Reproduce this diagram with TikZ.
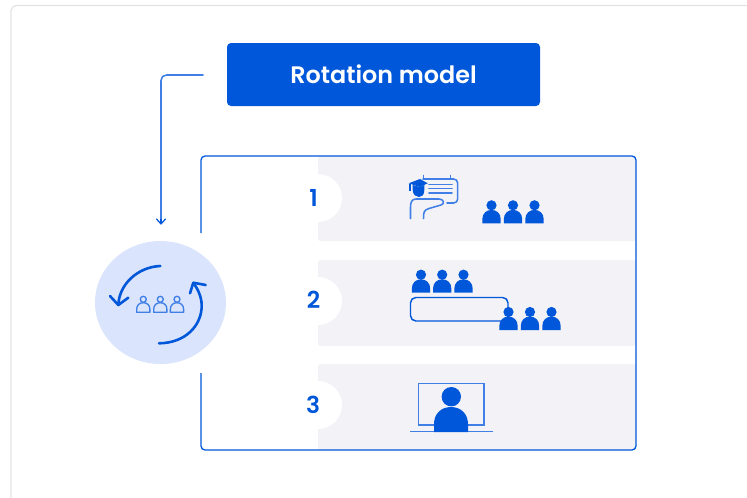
\documentclass[tikz,border=0pt]{standalone}
\usepackage{fontspec}
\setmainfont[BoldFont={Poppins SemiBold}]{Poppins}
\usetikzlibrary{arrows.meta}
\definecolor{mainblue}{HTML}{0057D9}
\definecolor{lineblue}{HTML}{3F7FE6}
\definecolor{softblue}{HTML}{DAE4FD}
\definecolor{panelgray}{HTML}{F2F2F7}
\definecolor{cardgray}{HTML}{E4E4E4}
\tikzset{
  x=0.75pt,y=-0.75pt,
  thinblue/.style={draw=lineblue,line width=1.15pt,line cap=round,line join=round},
  panel/.style={fill=panelgray},
  notch/.style={fill=white},
  numlabel/.style={font=\bfseries\fontsize{17.5}{19}\selectfont,text=mainblue,inner sep=0pt},
  rotarrow/.style={draw=mainblue,line width=1.95pt,line cap=round,line join=round},
  pics/personfill/.style={code={
    \fill[mainblue] (0,-18) circle[radius=5.1];
    \fill[mainblue] (-9.2,0) -- (-9.2,-4) .. controls (-9.2,-10) and (-5,-13.4) .. (0,-13.4)
       .. controls (5,-13.4) and (9.2,-10) .. (9.2,-4) -- (9.2,0) -- cycle;
  }},
  pics/personline/.style={code={
    \draw[lineblue,line width=1pt] (0,-13) circle[radius=3];
    \draw[lineblue,line width=1pt,line join=round] (-6.6,0) -- (-6.6,-3) .. controls (-6.6,-7) and (-4,-9.6) .. (0,-9.6)
       .. controls (4,-9.6) and (6.6,-7) .. (6.6,-3) -- (6.6,0) -- cycle;
  }}
}
\begin{document}
\begin{tikzpicture}
\useasboundingbox (0,0) rectangle (747,497);
\clip (0,0) rectangle (747,497);
\fill[white] (0,0) rectangle (747,497);
\draw[cardgray,line width=0.9pt,rounded corners=4pt] (11,5.5) -- (770,5.5) -- (770,520) -- (11,520) -- cycle;

% panels
\fill[panel,rounded corners=2pt] (318,156) rectangle (636,241);
\fill[panel,rounded corners=2pt] (318,260) rectangle (636,346);
\fill[panel,rounded corners=2pt] (318,364) rectangle (636,450);
\fill[notch] (318,198) circle[radius=24];
\fill[notch] (318,301) circle[radius=24];
\fill[notch] (318,405) circle[radius=24];
\node[numlabel] (n1) at (313.5,198) {1};
\node[numlabel] (n2) at (313.5,300) {2};
\node[numlabel] (n3) at (313,405) {3};

% frame
\draw[mainblue,line width=0.95pt,rounded corners=3pt]
  (201,233) -- (201,156) -- (636,156) -- (636,450) -- (201,450) -- (201,373);

% title
\node[fill=mainblue,rounded corners=3pt,minimum width=234.75pt,minimum height=47.25pt,inner sep=0pt,
  text=white,font=\bfseries\fontsize{17.9}{19}\selectfont] (title) at (383.5,74.5) {Rotation model};

% circle
\fill[softblue] (160.5,302.5) ellipse[x radius=65.5,y radius=61.5];
\coordinate (hub) at (160.5,302.5);
\coordinate (start) at (203,75);
\coordinate (hubtop) at (161,224);
\draw[thinblue,rounded corners=4pt] (start) -- (161,75) -- (161,219);
\draw[draw=mainblue,line width=0.9pt,line cap=round,line join=round] (156.5,219) -- (hubtop) -- (165.5,219);
\draw[draw=mainblue,line width=0.9pt] (161,219) -- (hubtop);

% rotation arrows
\draw[rotarrow] (160.3,266) .. controls (137,267) and (119,285) .. (118.3,305);
\draw[rotarrow] (110,296) -- (118.3,305) -- (128.3,297.7);
\draw[rotarrow] (159,343.3) .. controls (186,343) and (202,325) .. (201.7,305) .. controls (201.5,297) and (198,289) .. (193.3,283);
\draw[rotarrow] (190,293.3) -- (193.3,282.7) -- (205.7,285);
\pic at (143.3,312.3) {personline};
\pic at (160.3,312.3) {personline};
\pic at (177,312.3) {personline};

% icon 1: teacher at a board
\begin{scope}[thinblue]
  \draw[rounded corners=3pt] (423,179) -- (457.7,179) -- (457.7,203) -- (447,203);
  \draw (423.5,175.5) -- (423.5,179);
  \draw (450.7,175.5) -- (450.7,179);
  \draw (429,184.3) -- (452,184.3);
  \draw (429,188.7) -- (452,188.7);
  \draw (429,193) -- (452,193);
  \draw (410.5,218.5) -- (410.5,207) .. controls (410.5,202) and (412,199) .. (416,199) -- (439,199)
    .. controls (444,199) and (445,204) .. (441,205) -- (429,208.5) .. controls (424,210) and (423.5,212) .. (423.5,218.5);
\end{scope}
\fill[mainblue] (408.7,183.3) -- (420,179) -- (427.7,183.3) -- (420,187) -- cycle;
\fill[mainblue] (412.7,185) -- (412.7,190) .. controls (413,195) and (416,197) .. (419,197) .. controls (422,197) and (424.3,195) .. (424.3,190) -- (424.3,185) -- (420,187) -- cycle;
\draw[mainblue,line width=0.9pt] (410,184) -- (410,191);
\pic at (491.5,223.3) {personfill};
\pic at (513,223.3) {personfill};
\pic at (534.5,223.3) {personfill};

% icon 2: group rotation at a table
\pic at (421,292.7) {personfill};
\pic at (442.2,292.7) {personfill};
\pic at (463.5,292.7) {personfill};
\draw[draw=mainblue,line width=1.1pt,rounded corners=4pt] (410.5,297.5) rectangle (508,321);
\pic at (508.5,330) {personfill};
\pic at (530,330) {personfill};
\pic at (551.5,330) {personfill};

% icon 3: person at a screen
\draw[thinblue,line cap=butt,line join=miter] (418.5,383.5) rectangle (484,425);
\draw[thinblue,line cap=butt] (410,431.7) -- (493,431.7);
\fill[mainblue] (451.3,396.7) circle[radius=9.7];
\fill[mainblue] (434,432) -- (434,424) .. controls (434,414) and (441,407) .. (451,407)
  .. controls (461,407) and (468,414) .. (468,424) -- (468,432) -- cycle;
\end{tikzpicture}
\end{document}
